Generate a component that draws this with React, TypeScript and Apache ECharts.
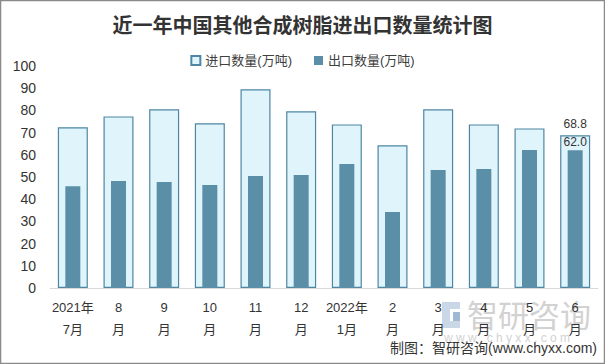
import React, { useEffect, useRef } from "react";
import * as echarts from "echarts";

const categories = ["2021年\n7月", "8\n月", "9\n月", "10\n月", "11\n月", "12\n月", "2022年\n1月", "2\n月", "3\n月", "4\n月", "5\n月", "6\n月"];
const importValues = [72.4, 77.3, 80.5, 74.2, 89.5, 79.6, 73.7, 64.3, 80.5, 73.7, 71.9, 68.8];
const exportValues = [45.8, 48.2, 47.7, 46.4, 50.5, 50.9, 55.9, 34.2, 53.2, 53.6, 62.2, 62.0];
const yTicks = [0, 10, 20, 30, 40, 50, 60, 70, 80, 90, 100];

const FONT = '"Liberation Sans", "Noto Sans CJK SC", sans-serif';

export default function App() {
  const ref = useRef<HTMLDivElement>(null);
  useEffect(() => {
    if (!ref.current) return;
    const chart = echarts.init(ref.current, null, { renderer: "svg" });
    const last = categories.length - 1;
    chart.setOption({
      animation: false,
      backgroundColor: "#ffffff",
      textStyle: { fontFamily: FONT },
      title: {
        text: "近一年中国其他合成树脂进出口数量统计图",
        left: "center",
        top: 9,
        textStyle: { fontSize: 20, fontWeight: "bold", color: "#333333", fontFamily: '"Noto Sans CJK SC", serif' },
      },
      legend: {
        top: 49,
        left: "center",
        itemWidth: 9,
        itemHeight: 9,
        itemGap: 22,
        icon: "rect",
        textStyle: { fontSize: 13, color: "#404040", fontFamily: FONT },
        data: ["进口数量(万吨)", "出口数量(万吨)"],
      },
      grid: { left: 50, right: 7, top: 66, bottom: 76, containLabel: false },
      xAxis: [
        {
          type: "category",
          data: categories,
          axisLine: { lineStyle: { color: "#d9d9d9", width: 1 } },
          axisTick: { show: false },
          axisLabel: { color: "#333333", fontSize: 13, lineHeight: 22, margin: 8, interval: 0, fontFamily: FONT },
        },
        {
          type: "category",
          data: categories,
          show: false,
        },
      ],
      yAxis: {
        type: "value",
        min: yTicks[0],
        max: yTicks[yTicks.length - 1],
        interval: 10,
        splitLine: { show: false },
        axisLine: { show: false },
        axisTick: { show: false },
        axisLabel: { color: "#333333", fontSize: 14, margin: 14, fontFamily: FONT },
      },
      series: [
        {
          name: "进口数量(万吨)",
          type: "bar",
          xAxisIndex: 0,
          barWidth: 30,
          itemStyle: { color: "#dff4fb", borderColor: "#4f86a3", borderWidth: 1.2 },
          data: importValues.map((v, i) =>
            i === last
              ? { value: v, label: { show: true, position: "top", distance: 5, color: "#333333", fontSize: 12, formatter: (p: any) => p.value.toFixed(1) } }
              : v
          ),
          z: 1,
        },
        {
          name: "出口数量(万吨)",
          type: "bar",
          xAxisIndex: 1,
          barWidth: 15,
          itemStyle: { color: "#5b8fa7" },
          data: exportValues.map((v, i) =>
            i === last
              ? { value: v, label: { show: true, position: "top", distance: 2, color: "#333333", fontSize: 12, formatter: (p: any) => p.value.toFixed(1) } }
              : v
          ),
          z: 2,
        },
      ],
      graphic: [
        {
          type: "rect",
          shape: { x: 0.5, y: 0.5, width: 604, height: 363 },
          style: { fill: "none", stroke: "#8a8a8a", lineWidth: 1.5 },
          silent: true,
          z: 100,
        },
        {
          type: "group",
          left: 442,
          top: 302,
          silent: true,
          z: 0,
          children: [
            { type: "rect", shape: { x: 0, y: 0, width: 8, height: 26 }, style: { fill: "#c9d7e6" } },
            { type: "rect", shape: { x: 8, y: 0, width: 10, height: 7 }, style: { fill: "#c9d7e6" } },
            { type: "rect", shape: { x: 11, y: 10, width: 7, height: 16 }, style: { fill: "#9fb9d3" } },
            { type: "rect", shape: { x: 0, y: 19, width: 18, height: 7 }, style: { fill: "#c9d7e6" } },
          ],
        },
        {
          type: "text",
          left: 467,
          top: 298,
          silent: true,
          z: 0,
          style: { text: "智研咨询", fontSize: 31, fill: "#d2d2d2", fontFamily: '"Noto Sans CJK SC", sans-serif' },
        },
        {
          type: "text",
          left: 444,
          top: 332,
          silent: true,
          z: 0,
          style: { text: "w w w . c h y x x . c o m", fontSize: 12, fill: "#d2d2d2", fontFamily: FONT },
        },
        {
          type: "text",
          right: 8,
          top: 341,
          silent: true,
          z: 50,
          style: { text: "制图：智研咨询(www.chyxx.com)", fontSize: 14, fill: "#333333", fontFamily: FONT },
        },
      ],
    });
    return () => chart.dispose();
  }, []);
  return (
    <div
      ref={ref}
      style={{ position: "absolute", left: 0, top: 0, width: 605, height: 364 }}
    />
  );
}
